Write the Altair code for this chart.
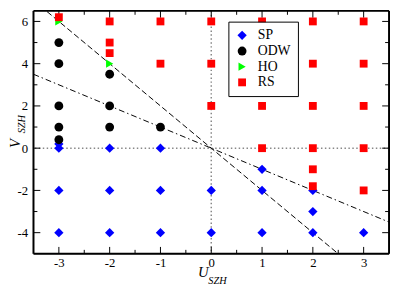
import altair as alt
import pandas as pd

# ---------------- data ----------------
sets = ["SP", "ODW", "HO", "RS"]
colors = ["#0000ff", "#000000", "#00ff00", "#ff0000"]
shapes = ["diamond", "circle", "triangle-right", "square"]
sizes = [90, 64, 80, 56]

sp_u = [-3, -3, -3, -3, -2, -2, -2, -1, -1, -1, 0, 0, 1, 1, 1, 2, 2, 2, 3]
sp_v = [0, 0.2, -2, -4, 0, -2, -4, 0, -2, -4, -2, -4, -1, -2, -4, -2, -3, -4, -4]

odw_u = [-3, -3, -3, -3, -3, -2, -2, -2, -1]
odw_v = [5, 4, 2, 1, 0.4, 3.5, 2, 1, 1]

ho_u = [-3, -2]
ho_v = [6, 4]

rs_u = [-3, -2, -2, -2, -1, -1, 0, 0, 0, 1, 1, 1, 1, 2, 2, 2, 2, 2, 2, 3, 3, 3, 3, 3]
rs_v = [6.2, 6, 5, 4.5, 6, 4, 6, 4, 2, 6, 4, 2, 0, 6, 4, 2, 0, -1, -1.8, 6, 4, 2, 0, -2]

dashed_u = [-3.5, 2.5]
dashed_v = [7.0, -5.0]
dashdot_u = [-3.5, 3.5]
dashdot_v = [3.5, -3.5]

x_major = [-3, -2, -1, 0, 1, 2, 3]
x_minor = [-2.5, -1.5, -0.5, 0.5, 1.5, 2.5]
y_major = [-4, -2, 0, 2, 4, 6]
y_minor = [-3, -1, 1, 3, 5]

x_domain = [-3.5, 3.5]
y_domain = [-5, 6.5]

x_title = ["U", "SZH"]
y_title = ["V", "SZH"]

# ---------------- build ----------------
W, H = 363, 248
FONT = "Liberation Serif"

rows = []
for name, us, vs in [("SP", sp_u, sp_v), ("ODW", odw_u, odw_v), ("HO", ho_u, ho_v), ("RS", rs_u, rs_v)]:
    for u, v in zip(us, vs):
        rows.append({"u": u, "v": v, "set": name})
pts = pd.DataFrame(rows)

xs = alt.Scale(domain=x_domain, nice=False, zero=False)
ys = alt.Scale(domain=y_domain, nice=False, zero=False)

x_axis = alt.Axis(values=x_major, ticks=False, domain=False, grid=False, labelFont=FONT,
                  labelFontSize=13, labelColor="black", labelPadding=3, labelExpr="'' + datum.value")
y_axis = alt.Axis(values=y_major, ticks=False, domain=False, grid=False, labelFont=FONT,
                  labelFontSize=13, labelColor="black", labelPadding=6, labelExpr="'' + datum.value")

X = alt.X("u:Q", scale=xs, axis=x_axis, title=None)
Y = alt.Y("v:Q", scale=ys, axis=y_axis, title=None)

# zero dotted lines
zx = alt.Chart(pd.DataFrame({"u": [0]})).mark_rule(color="#888888", strokeWidth=1.5, strokeDash=[1.5, 2.5]).encode(x=X)
zy = alt.Chart(pd.DataFrame({"v": [0]})).mark_rule(color="#888888", strokeWidth=1.5, strokeDash=[1.5, 2.5]).encode(y=Y)

# reference lines
dashed = alt.Chart(pd.DataFrame({"u": dashed_u, "v": dashed_v})).mark_line(
    color="black", strokeWidth=1, strokeDash=[6, 3], clip=True).encode(x=X, y=Y)
dashdot = alt.Chart(pd.DataFrame({"u": dashdot_u, "v": dashdot_v})).mark_line(
    color="black", strokeWidth=1, strokeDash=[6, 3, 1.5, 3], clip=True).encode(x=X, y=Y)

# points
legend = alt.Legend(title=None, orient="none", legendX=199, legendY=11, fillColor="white",
                    strokeColor="black", padding=7, labelFont=FONT, labelFontSize=14,
                    labelColor="black", symbolSize=64, rowPadding=2, labelOffset=9,
                    symbolStrokeWidth=0, symbolOpacity=1)
points = alt.Chart(pts).mark_point(filled=True, opacity=1, strokeWidth=0).encode(
    x=X, y=Y,
    color=alt.Color("set:N", scale=alt.Scale(domain=sets, range=colors), legend=legend),
    shape=alt.Shape("set:N", scale=alt.Scale(domain=sets, range=shapes), legend=legend),
    size=alt.Size("set:N", scale=alt.Scale(domain=sets, range=sizes), legend=None),
)

# frame edges drawn at the domain limits
fx = pd.DataFrame({"u": x_domain})
fy = pd.DataFrame({"v": y_domain})
frame_v = alt.Chart(fx).mark_rule(color="black", strokeWidth=2).encode(
    x=X, y=alt.value(0), y2=alt.value(H))
frame_h = alt.Chart(fy).mark_rule(color="black", strokeWidth=2).encode(
    y=Y, x=alt.value(0), x2=alt.value(W))

# inward ticks on all four sides
def xticks(vals, length):
    d = pd.DataFrame({"u": vals})
    bottom = alt.Chart(d).mark_rule(color="black", strokeWidth=1).encode(
        x=X, y=alt.value(H), y2=alt.value(H - length))
    top = alt.Chart(d).mark_rule(color="black", strokeWidth=1).encode(
        x=X, y=alt.value(0), y2=alt.value(length))
    return [bottom, top]

def yticks(vals, length):
    d = pd.DataFrame({"v": vals})
    left = alt.Chart(d).mark_rule(color="black", strokeWidth=1).encode(
        y=Y, x=alt.value(0), x2=alt.value(length))
    right = alt.Chart(d).mark_rule(color="black", strokeWidth=1).encode(
        y=Y, x=alt.value(W), x2=alt.value(W - length))
    return [left, right]

ticks = xticks(x_major, 7) + xticks(x_minor, 4) + yticks(y_major, 7) + yticks(y_minor, 4)

one = pd.DataFrame({"a": [0]})
ut = alt.Chart(one).mark_text(font=FONT, fontStyle="italic", fontSize=15, align="left",
                              baseline="alphabetic", color="black").encode(
    x=alt.value(168), y=alt.value(272), text=alt.value(x_title[0]))
us_ = alt.Chart(one).mark_text(font=FONT, fontStyle="italic", fontSize=10.5, align="left",
                               baseline="alphabetic", color="black").encode(
    x=alt.value(178.5), y=alt.value(278.5), text=alt.value(x_title[1]))
vt = alt.Chart(one).mark_text(font=FONT, fontStyle="italic", fontSize=15, align="left",
                              baseline="alphabetic", angle=270, color="black").encode(
    x=alt.value(-14), y=alt.value(140), text=alt.value(y_title[0]))
vs_ = alt.Chart(one).mark_text(font=FONT, fontStyle="italic", fontSize=10.5, align="left",
                               baseline="alphabetic", angle=270, color="black").encode(
    x=alt.value(-9), y=alt.value(125), text=alt.value(y_title[1]))

chart = alt.layer(zx, zy, dashed, dashdot, *ticks, frame_v, frame_h, points,
                  ut, us_, vt, vs_).properties(
    width=W, height=H,
    autosize=alt.AutoSizeParams(type="none"),
    padding={"left": 26, "top": 0, "right": 2, "bottom": 32},
).configure_view(stroke=None).configure(background="white")

chart.save("out.html", embed_options={"renderer": "svg", "actions": False})
